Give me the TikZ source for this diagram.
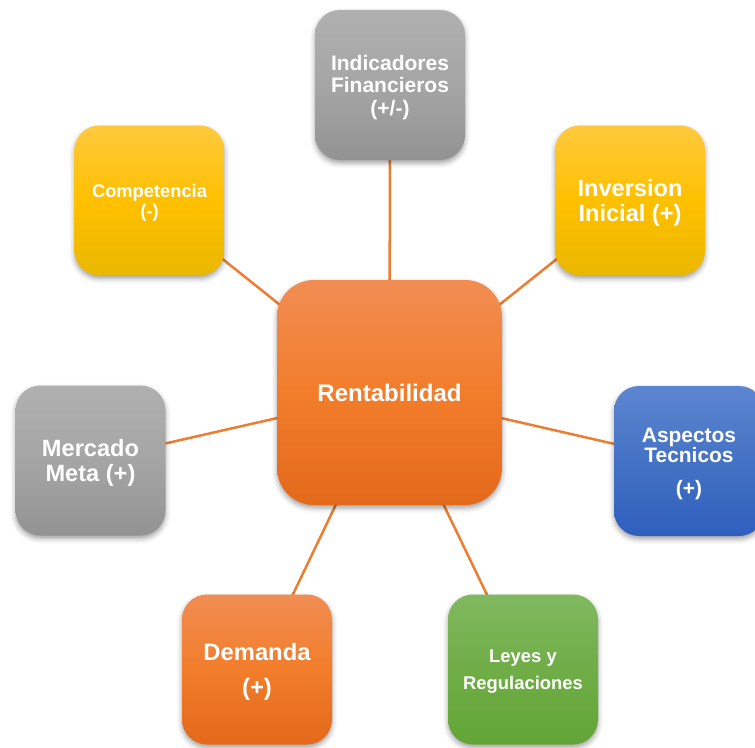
\documentclass[tikz,border=0pt]{standalone}
\usepackage{fontspec}
\setmainfont{Liberation Sans}
\usetikzlibrary{shadows.blur,backgrounds}
\definecolor{grayT}{HTML}{B0B0B0}
\definecolor{grayM}{HTML}{A5A5A5}
\definecolor{grayB}{HTML}{939393}
\definecolor{yelT}{HTML}{FFC93E}
\definecolor{yelM}{HTML}{FFC000}
\definecolor{yelB}{HTML}{EAB700}
\definecolor{orT}{HTML}{F18D53}
\definecolor{orM}{HTML}{F27D2B}
\definecolor{orB}{HTML}{E3691B}
\definecolor{bluT}{HTML}{5D86D1}
\definecolor{bluM}{HTML}{4472C4}
\definecolor{bluB}{HTML}{2F5FBE}
\definecolor{grnT}{HTML}{80B960}
\definecolor{grnM}{HTML}{70AD47}
\definecolor{grnB}{HTML}{62A535}
\definecolor{linkcol}{HTML}{ED7D31}
\begin{document}
\begin{tikzpicture}[x=1pt,y=-1pt,
  box/.style={rectangle, rounded corners=25pt, minimum width=150pt, minimum height=150pt,
    inner sep=0pt,
    blur shadow={shadow xshift=0pt, shadow yshift=-3pt, shadow blur radius=5pt, shadow opacity=38}},
  lbl/.style={align=center, text=white, inner sep=0pt, yshift=-2.5pt},
  graybox/.style={box, top color=grayT, bottom color=grayB, middle color=grayM},
  yelbox/.style={box, top color=yelT, bottom color=yelB, middle color=yelM},
  orbox/.style={box, top color=orT, bottom color=orB, middle color=orM},
  blubox/.style={box, top color=bluT, bottom color=bluB, middle color=bluM},
  grnbox/.style={box, top color=grnT, bottom color=grnB, middle color=grnM},
  link/.style={draw=linkcol, line width=2.5pt}
]
\useasboundingbox (0,0) rectangle (755,747);
\clip (0,0) rectangle (755,747);

\node[orbox, minimum width=225pt, minimum height=225pt, rounded corners=37pt,
  align=center, text=white,
  font=\bfseries\fontsize{24}{28}\selectfont] (c) at (389.5,392.5) {Rentabilidad};

\node[graybox] (ind) at (390,85) {};
\node[yelbox] (comp) at (149.5,200.5) {};
\node[yelbox] (inv) at (630,200.5) {};
\node[graybox] (merc) at (90.5,460.5) {};
\node[blubox] (asp) at (689,461) {};
\node[orbox] (dem) at (257,669.5) {};
\node[grnbox] (ley) at (523,669.5) {};

\node[lbl, font=\bfseries\fontsize{21}{22.5}\selectfont] (indt) at (ind.center)
  {Indicadores\\Financieros\\(+/-)};
\node[lbl, font=\bfseries\fontsize{18.3}{20}\selectfont] (compt) at (comp.center)
  {Competencia\\(-)};
\node[lbl, font=\bfseries\fontsize{23.6}{25}\selectfont] (invt) at (inv.center)
  {Inversion\\Inicial (+)};
\node[lbl, font=\bfseries\fontsize{23.6}{25}\selectfont] (merct) at (merc.center)
  {Mercado\\Meta (+)};
\node[lbl, font=\bfseries\fontsize{20.9}{20}\selectfont] (aspt) at (asp.center)
  {Aspectos\\Tecnicos\\[13pt](+)};
\node[lbl, font=\bfseries\fontsize{23.8}{35}\selectfont] (demt) at (dem.center)
  {Demanda\\(+)};
\node[lbl, font=\bfseries\fontsize{18.4}{27}\selectfont] (leyt) at (ley.center)
  {Leyes y\\Regulaciones};

\begin{scope}[on background layer]
\foreach \n in {ind,comp,inv,merc,asp,dem,ley}
  \draw[link] (c.center) -- (\n.center);
\end{scope}
\end{tikzpicture}
\end{document}
